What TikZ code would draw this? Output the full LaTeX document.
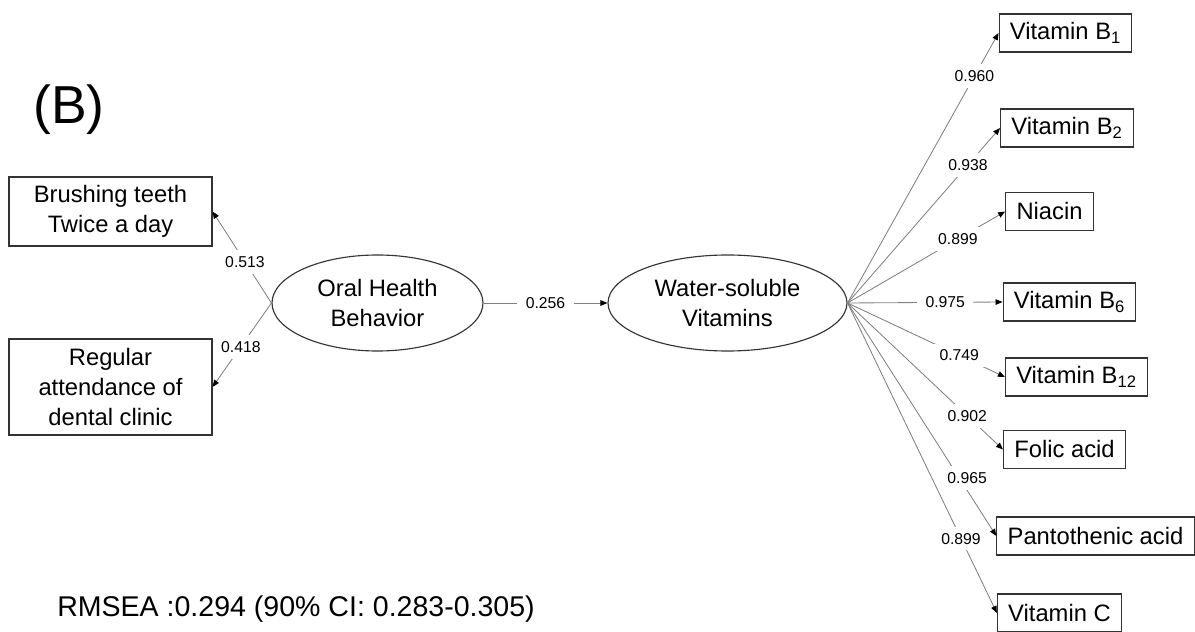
\documentclass[tikz,border=0pt]{standalone}
\usepackage{fontspec}
\setmainfont{Liberation Sans}
\usetikzlibrary{arrows.meta,shapes.geometric}

\begin{document}
\begin{tikzpicture}
        [scale=1, every node/.style={text=black},
         box/.style={draw=black!80, line width=0.8pt, inner xsep=0.27cm, minimum height=0.95cm, font=\fontsize{16.9}{21}\selectfont},
         bigbox/.style={box, align=center, minimum width=5.075cm},
         latent/.style={draw=black!80, line width=0.8pt, shape=ellipse, inner sep=0, minimum height=2.4cm, align=center, font=\fontsize{16.9}{21}\selectfont},
         coef/.style={fill=white, inner xsep=6pt, inner ysep=4.5pt, font=\fontsize{11.2}{13}\selectfont},
         link/.style={draw=black!50, line width=0.6pt, -{Triangle[length=5pt,width=4pt,black]}}]

        \useasboundingbox (0,0) rectangle (29.875,-15.8);

        \node[font=\fontsize{38}{44}\selectfont] (title) at (1.725,-2.74) {(B)};
        \node[anchor=west, inner sep=0, font=\fontsize{20.3}{24}\selectfont] (fit) at (1.425,-15.24) {RMSEA :0.294 (90\% CI: 0.283-0.305)};

        \node[bigbox, minimum height=1.725cm] (x1) at (2.7625,-5.2875) {Brushing teeth\\Twice a day};
        \node[bigbox, minimum height=2.4cm] (x2) at (2.7625,-9.675) {Regular\\attendance of\\dental clinic};
        \node[latent, minimum width=5.275cm] (l1) at (9.4375,-7.575) {Oral Health\\Behavior};
        \node[latent, minimum width=5.975cm] (l2) at (18.1875,-7.575) {Water-soluble\\Vitamins};

        \node[box] (y1) at (26.6375,-0.825) {Vitamin B\textsubscript{1}};
        \node[box] (y2) at (26.675,-3.2) {Vitamin B\textsubscript{2}};
        \node[box] (y3) at (26.2375,-5.2875) {Niacin};
        \node[box] (y4) at (26.7375,-7.55) {Vitamin B\textsubscript{6}};
        \node[box] (y5) at (26.9125,-9.425) {Vitamin B\textsubscript{12}};
        \node[box] (y6) at (26.6125,-11.2375) {Folic acid};
        \node[box] (y7) at (27.3875,-13.4) {Pantothenic acid};
        \node[box] (y8) at (26.4875,-15.325) {Vitamin C};

        \draw[link] (l1.west) -- node[coef, pos=.45] {0.513} (x1.east);
        \draw[link] (l1.west) -- node[coef, pos=.52] {0.418} (x2.east);
        \draw[link] (l1.east) -- node[coef] {0.256} (l2.west);
        \draw[link] (l2.east) -- node[coef, pos=.84] {0.960} (y1.west);
        \draw[link] (l2.east) -- node[coef, pos=.79] {0.938} (y2.west);
        \draw[link] (l2.east) -- node[coef, pos=.70] {0.899} (y3.west);
        \draw[link] (l2.east) -- node[coef, pos=.63] {0.975} (y4.west);
        \draw[link] (l2.east) -- node[coef, pos=.71] {0.749} (y5.west);
        \draw[link] (l2.east) -- node[coef, pos=.77] {0.902} (y6.west);
        \draw[link] (l2.east) -- node[coef, pos=.75, xshift=0.2cm] {0.965} (y7.west);
        \draw[link] (l2.east) -- node[coef, pos=.76] {0.899} (y8.west);
      \end{tikzpicture}
\end{document}
